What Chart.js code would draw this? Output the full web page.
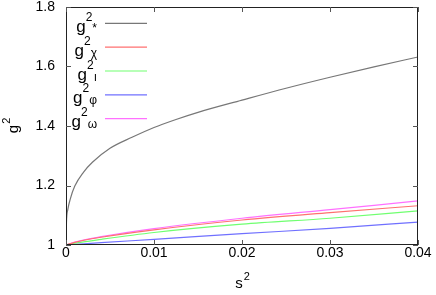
<!DOCTYPE html>
<html>
<head>
<meta charset="utf-8">
<script src="https://cdn.jsdelivr.net/npm/chart.js@4.4.1/dist/chart.umd.min.js"></script>
<style>
  html, body { margin: 0; padding: 0; background: #fff; }
  #wrap { width: 436px; height: 295px; }
</style>
</head>
<body>
<div id="wrap"><canvas id="chart" width="436" height="295"></canvas></div>
<script>
// values
const sBlack = [0, 0.00005, 0.0002, 0.0005, 0.001, 0.002, 0.003, 0.005, 0.0075, 0.01, 0.0125, 0.015, 0.02, 0.025, 0.03, 0.035, 0.04];
const gStar = [1.0, 1.075, 1.118, 1.156, 1.198, 1.245, 1.278, 1.325, 1.362, 1.395, 1.422, 1.446, 1.487, 1.527, 1.564, 1.599, 1.632];

const sLow = [0, 0.001, 0.004, 0.01, 0.02, 0.03, 0.04];
const gChi = [1, 1.009, 1.026, 1.051, 1.084, 1.109, 1.132];
const gI = [1, 1.006, 1.019, 1.042, 1.07, 1.09, 1.115];
const gPhi = [1, 1.002, 1.008, 1.019, 1.038, 1.056, 1.077];
const gOmega = [1, 1.01, 1.028, 1.055, 1.09, 1.119, 1.148];

const xTicks = ['0', '0.01', '0.02', '0.03', '0.04'];
const yTicks = ['1', '1.2', '1.4', '1.6', '1.8'];

const series = [
  { sub: '*', s: sBlack, g: gStar, color: '#777777' },
  { sub: 'χ', s: sLow, g: gChi, color: '#ff7070' },
  { sub: 'ı', s: sLow, g: gI, color: '#70ff70' },
  { sub: 'φ', s: sLow, g: gPhi, color: '#7070ff' },
  { sub: 'ω', s: sLow, g: gOmega, color: '#ff70ff' },
];

const FONT = "'Liberation Sans', Arial, sans-serif";

// frame, inward ticks, axis titles and the gnuplot-style key
const framePlugin = {
  id: 'frame',
  afterDraw(chart) {
    const { ctx, chartArea: a, scales } = chart;
    ctx.save();
    ctx.strokeStyle = '#222';
    ctx.lineWidth = 1;
    ctx.strokeRect(a.left + 0.5, a.top + 0.5, a.right - a.left - 1, a.bottom - a.top - 1);

    ctx.strokeStyle = '#555';
    ctx.beginPath();
    xTicks.forEach((t, i) => {
      const x = Math.round(scales.x.getPixelForValue(i * 0.01)) + 0.5;
      ctx.moveTo(x, a.bottom); ctx.lineTo(x, a.bottom - 5);
      ctx.moveTo(x, a.top); ctx.lineTo(x, a.top + 5);
    });
    yTicks.forEach((t, i) => {
      const y = Math.round(scales.y.getPixelForValue(1 + i * 0.2)) + 0.5;
      ctx.moveTo(a.left, y); ctx.lineTo(a.left + 5, y);
      ctx.moveTo(a.right, y); ctx.lineTo(a.right - 5, y);
    });
    ctx.stroke();

    ctx.fillStyle = '#000';
    ctx.textBaseline = 'alphabetic';

    // x title s^2
    const cx = (a.left + a.right) / 2;
    ctx.font = '15px ' + FONT;
    const ws = ctx.measureText('s').width;
    ctx.fillText('s', cx - ws / 2 - 3, 288);
    ctx.font = '11px ' + FONT;
    ctx.fillText('2', cx + ws / 2 - 2, 280);

    // y title g^2, rotated
    ctx.save();
    ctx.translate(18, (a.top + a.bottom) / 2);
    ctx.rotate(-Math.PI / 2);
    ctx.font = '15px ' + FONT;
    const wg0 = ctx.measureText('g').width;
    ctx.fillText('g', -wg0 / 2 - 3, 0);
    ctx.font = '11px ' + FONT;
    ctx.fillText('2', wg0 / 2 - 2, -8);
    ctx.restore();

    // key: text right-justified, sub follows the superscript
    const right = a.left + 31;
    series.forEach((d, i) => {
      const ly = a.top + 16.3 + i * 23.85;
      ctx.strokeStyle = d.color;
      ctx.lineWidth = 1.2;
      ctx.beginPath();
      ctx.moveTo(a.left + 39, ly);
      ctx.lineTo(a.left + 81, ly);
      ctx.stroke();

      ctx.font = '17px ' + FONT;
      const wg = ctx.measureText('g').width;
      ctx.font = '12px ' + FONT;
      const w2 = ctx.measureText('2').width;
      const wsub = ctx.measureText(d.sub).width;
      const x0 = right - wg - w2 - wsub;
      ctx.font = '17px ' + FONT;
      ctx.fillText('g', x0, ly + 8.5);
      ctx.font = '12px ' + FONT;
      ctx.fillText('2', x0 + wg, ly - 2.5);
      ctx.fillText(d.sub, x0 + wg + w2, ly + (d.sub === '*' ? 8.5 : 9.5));
    });
    ctx.restore();
  }
};

new Chart(document.getElementById('chart'), {
  type: 'line',
  data: {
    datasets: series.map(d => ({
      label: 'g2' + d.sub,
      data: d.s.map((s, i) => ({ x: s, y: d.g[i] })),
      borderColor: d.color,
      borderWidth: 1.2,
      pointRadius: 0,
      fill: false,
      cubicInterpolationMode: 'monotone',
    })),
  },
  options: {
    responsive: false,
    animation: false,
    layout: { padding: { left: 0, top: 7, right: 18, bottom: 0 } },
    plugins: { legend: { display: false }, tooltip: { enabled: false } },
    scales: {
      x: {
        type: 'linear',
        min: 0,
        max: 0.04,
        grid: { display: false, drawTicks: false },
        border: { display: false },
        afterFit: s => { s.height = 50; s.paddingLeft = 0; s.paddingRight = 0; },
        ticks: {
          stepSize: 0.01,
          padding: 0,
          color: '#000',
          font: { family: FONT, size: 14 },
          callback: (v, i) => xTicks[i],
        },
      },
      y: {
        min: 1,
        max: 1.8,
        grid: { display: false, drawTicks: false },
        border: { display: false },
        afterFit: s => { s.width = 66; s.paddingTop = 0; s.paddingBottom = 0; },
        ticks: {
          stepSize: 0.2,
          padding: 11,
          color: '#000',
          font: { family: FONT, size: 14 },
          callback: (v, i) => yTicks[i],
        },
      },
    },
  },
  plugins: [framePlugin],
});
</script>
</body>
</html>
